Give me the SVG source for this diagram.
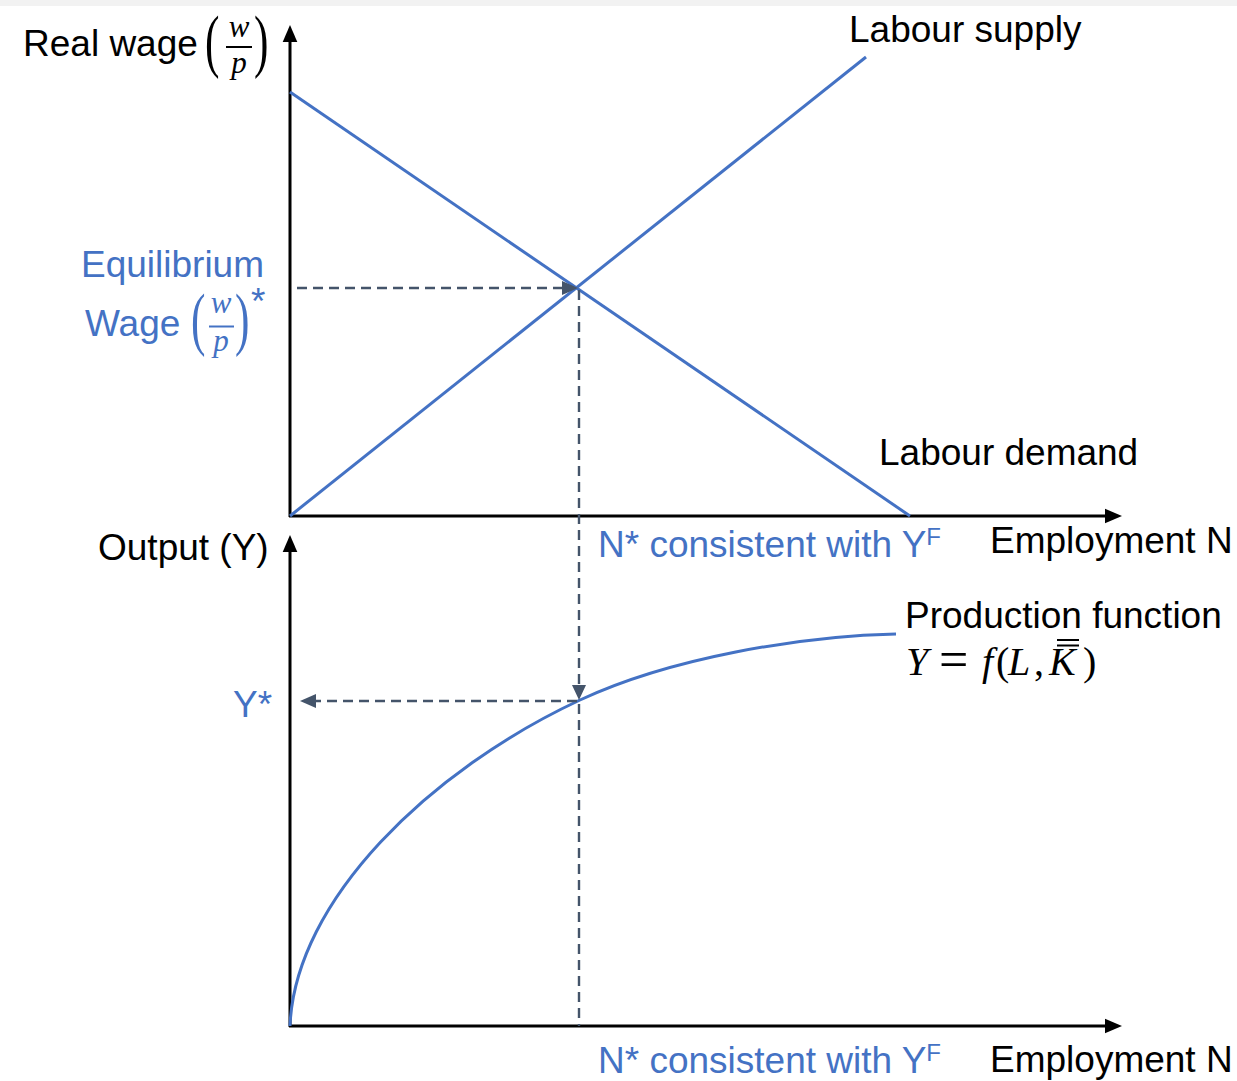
<svg xmlns="http://www.w3.org/2000/svg" width="1237" height="1081" viewBox="0 0 1237 1081">
<style>
.lbl{font-family:"Liberation Sans",Arial,sans-serif;font-size:37px;fill:#000}
.blue{fill:#4472C4}
.math{font-family:"Liberation Serif","Times New Roman",serif;font-style:italic}
.par{font-family:"Liberation Serif","Times New Roman",serif;font-size:70px}
.axis{stroke:#000;stroke-width:3;fill:none}
.curve{stroke:#4472C4;stroke-width:3;fill:none}
.dash{stroke:#44546A;stroke-width:2.4;stroke-dasharray:10 6;fill:none}
.ah{fill:#44546A}
</style>
<rect x="0" y="0" width="1237" height="6" fill="#f2f2f2"/>
<rect x="0" y="6" width="1237" height="1075" fill="#fff"/>

<g id="top-axes">
<line class="axis" x1="290" y1="517" x2="290" y2="38"/>
<polygon points="290,25 282.7,42 297.3,42" fill="#000"/>
<line class="axis" x1="289" y1="516" x2="1108" y2="516"/>
<polygon points="1122,516 1105,508.7 1105,523.3" fill="#000"/>
</g>

<g id="bottom-axes">
<line class="axis" x1="290" y1="1027" x2="290" y2="548"/>
<polygon points="290,535 282.7,552 297.3,552" fill="#000"/>
<line class="axis" x1="289" y1="1026" x2="1108" y2="1026"/>
<polygon points="1122,1026 1105,1018.7 1105,1033.3" fill="#000"/>
</g>

<g id="labour-demand">
<line class="curve" x1="290" y1="92" x2="910" y2="516"/>
<text class="lbl" x="879" y="465">Labour demand</text>
</g>

<g id="labour-supply">
<line class="curve" x1="290" y1="516" x2="866" y2="57"/>
<text class="lbl" x="849" y="42">Labour supply</text>
</g>

<g id="production-function">
<path class="curve" d="M290,1026 C295,900 430,770 580,700 C670,658 800,636 896,634"/>
<text class="lbl" x="905" y="628">Production function</text>
<g class="math" font-size="40" fill="#000">
<text x="906" y="675">Y</text>
<text x="939" y="677" font-style="normal" font-size="52">=</text>
<text x="982" y="675">f</text>
<text x="996" y="675" font-style="normal">(</text>
<text x="1008" y="675">L</text>
<text x="1034" y="675" font-style="normal">,</text>
<text x="1049" y="675">K</text>
<text x="1083" y="675" font-style="normal">)</text>
</g>
<line x1="1057" y1="640" x2="1079" y2="640" stroke="#000" stroke-width="2"/>
<line x1="1057" y1="645.5" x2="1079" y2="645.5" stroke="#000" stroke-width="2"/>
</g>

<g id="y-axis-label-top">
<text class="lbl" x="23" y="56">Real wage</text>
<text class="par" transform="translate(205,64) scale(0.62,1)" x="0" y="0">(</text>
<text class="par" transform="translate(254,64) scale(0.62,1)" x="0" y="0">)</text>
<text class="math" x="239" y="37" font-size="31" text-anchor="middle">w</text>
<line x1="226" y1="47" x2="252" y2="47" stroke="#000" stroke-width="2"/>
<text class="math" x="239" y="73" font-size="31" text-anchor="middle">p</text>
</g>

<g id="equilibrium-wage">
<text class="lbl blue" x="81" y="277">Equilibrium</text>
<text class="lbl blue" x="85" y="336">Wage</text>
<text class="par blue" transform="translate(191,342) scale(0.62,1)" x="0" y="0">(</text>
<text class="par blue" transform="translate(235,342) scale(0.62,1)" x="0" y="0">)</text>
<text class="math blue" x="221" y="313" font-size="31" text-anchor="middle">w</text>
<line x1="209" y1="326.5" x2="234" y2="326.5" stroke="#4472C4" stroke-width="2"/>
<text class="math blue" x="221" y="351" font-size="31" text-anchor="middle">p</text>
<text class="lbl blue" x="251" y="314" font-size="22">*</text>
</g>

<g id="y-axis-label-bottom">
<text class="lbl" x="98" y="560">Output (Y)</text>
</g>

<g id="x-labels-top">
<text class="lbl blue" x="598" y="557">N* consistent with Y<tspan font-size="24" dy="-12">F</tspan></text>
<text class="lbl" x="990" y="553">Employment N</text>
</g>

<g id="x-labels-bottom">
<text class="lbl blue" x="598" y="1073">N* consistent with Y<tspan font-size="24" dy="-12">F</tspan></text>
<text class="lbl" x="990" y="1072">Employment N</text>
</g>

<g id="y-star">
<text class="lbl blue" x="233" y="717">Y*</text>
</g>

<g id="connectors">
<line class="dash" x1="297" y1="288" x2="564" y2="288"/>
<polygon class="ah" points="578,288 562,281 562,295"/>
<line class="dash" x1="579" y1="290" x2="579" y2="688"/>
<polygon class="ah" points="579,700 572,685 586,685"/>
<line class="dash" x1="579" y1="704" x2="579" y2="1026"/>
<line class="dash" x1="577" y1="701" x2="314" y2="701"/>
<polygon class="ah" points="300,701 316,694 316,708"/>
</g>
</svg>
